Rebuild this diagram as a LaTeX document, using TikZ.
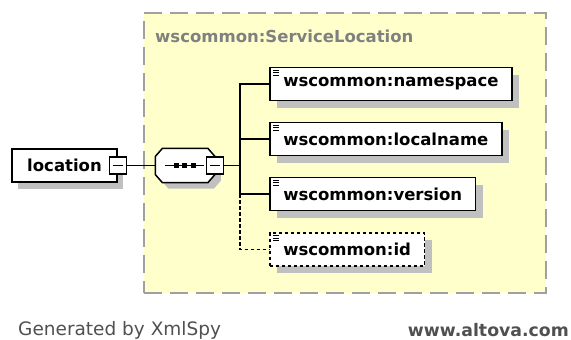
\documentclass[tikz,border=0pt]{standalone}
\usepackage{fontspec}
\setmainfont{DejaVu Sans}
\usetikzlibrary{shadows,positioning}
\definecolor{groupfill}{RGB}{255,255,204}
\definecolor{groupline}{RGB}{160,160,160}
\definecolor{shadowgray}{RGB}{192,192,192}
\definecolor{titlegray}{RGB}{128,128,128}
\definecolor{footgray}{RGB}{80,80,80}

% outline of the sequence compositor, cut corners
\newcommand{\seqoutline}[1]{([xshift=7pt]#1.north west) -- ([xshift=-7pt]#1.north east) -- ([yshift=-8pt]#1.north east)
    -- ([yshift=8pt]#1.south east) -- ([xshift=-7pt]#1.south east) -- ([xshift=7pt]#1.south west)
    -- ([yshift=8pt]#1.south west) -- ([yshift=-8pt]#1.north west) -- cycle}

\begin{document}
\begin{tikzpicture}[
    x=1pt, y=-1pt,
    group/.style={rectangle, draw=groupline, fill=groupfill, line width=1.3pt, dash pattern=on 18pt off 8pt},
    grouptitle/.style={text=titlegray, font=\fontsize{16.5}{18}\selectfont\bfseries, inner sep=0pt},
    elem/.style={rectangle, draw, fill=white, line width=1.6pt, minimum height=33pt, inner xsep=13.5pt, inner ysep=0pt,
        font=\fontsize{16.5}{18}\selectfont\bfseries,
        drop shadow={shadow xshift=7pt, shadow yshift=-7pt, fill=shadowgray, draw=none, opacity=1},
        path picture={\foreach \k in {0,1,2}
            \draw[solid, line width=0.8pt] ([xshift=3pt, yshift={-2.8pt-2.3pt*\k}]path picture bounding box.north west) -- ++(6.5pt,0);}},
    optelem/.style={elem, dash pattern=on 3.5pt off 2.5pt},
    plainelem/.style={rectangle, draw, fill=white, line width=1.6pt, minimum height=33pt, inner sep=0pt,
        font=\fontsize{16.5}{18}\selectfont\bfseries,
        drop shadow={shadow xshift=6pt, shadow yshift=-7pt, fill=shadowgray, draw=none, opacity=1}},
    seqbox/.style={rectangle, minimum width=59pt, minimum height=34pt, inner sep=0pt},
    minusbox/.style={rectangle, draw, fill=white, line width=1.3pt, minimum size=17pt, inner sep=0pt,
        path picture={\draw[line width=1.3pt] ([xshift=3.5pt]path picture bounding box.west) -- ([xshift=-3.5pt]path picture bounding box.east);}},
    link/.style={line width=1.5pt},
    footer/.style={inner sep=0pt}
]
    \useasboundingbox (0,0) rectangle (571,340);

    % the complex type
    \node[group, minimum width=402pt, minimum height=280pt] (grp) at (345,153) {};
    \node[grouptitle, anchor=west] (grptitle) at (155,36) {wscommon:ServiceLocation};

    % root element and sequence
    \node[plainelem, minimum width=105pt] (loc) at (64.5,165.5) {location\hspace{6pt}};
    \node[minusbox] (locm) at (loc.east) {};
    \node[seqbox, right=28.5pt of locm] (seq) {};
    \node[seqbox] (seqsh) at ([shift={(6pt,-6pt)}]seq.center) {};
    \fill[shadowgray] \seqoutline{seqsh};
    \filldraw[fill=white, link] \seqoutline{seq};
    \draw[link] ([xshift=-20pt]seq.center) -- ([xshift=19pt]seq.center);
    \foreach \d in {-9,-0.5,8}
        \fill ([xshift=\d pt]seq.center) +(-2.5,-2.5) rectangle +(2.5,2.5);
    \node[minusbox] (seqm) at (seq.east) {};
    \coordinate[right=16pt of seqm] (fork);

    % children
    \node[elem, anchor=west] (ns) at (269,84) {wscommon:namespace};
    \node[elem, anchor=west] (ln) at (269,139) {wscommon:localname};
    \node[elem, anchor=west] (ver) at (269,194) {wscommon:version};
    \node[optelem, anchor=west] (id) at (269,249.5) {wscommon:id};

    \draw[link] (locm) -- (seq);
    \draw[link] (seqm) -- (fork);
    \draw[link] (ns.west) -| (fork);
    \draw[link] (ln.west) -| (fork);
    \draw[link] (ver.west) -| (fork);
    \draw[link, dash pattern=on 3.5pt off 2.5pt] (fork |- ver.west) |- (id.west);

    % footer
    \node[footer, anchor=west, text=footgray, font=\fontsize{18.5}{20}\selectfont] (gen) at (18,330) {Generated by XmlSpy};
    \node[footer, anchor=east, text=footgray, font=\fontsize{17.3}{20}\selectfont\bfseries] (web) at (569,330) {www.altova.com};
\end{tikzpicture}
\end{document}
